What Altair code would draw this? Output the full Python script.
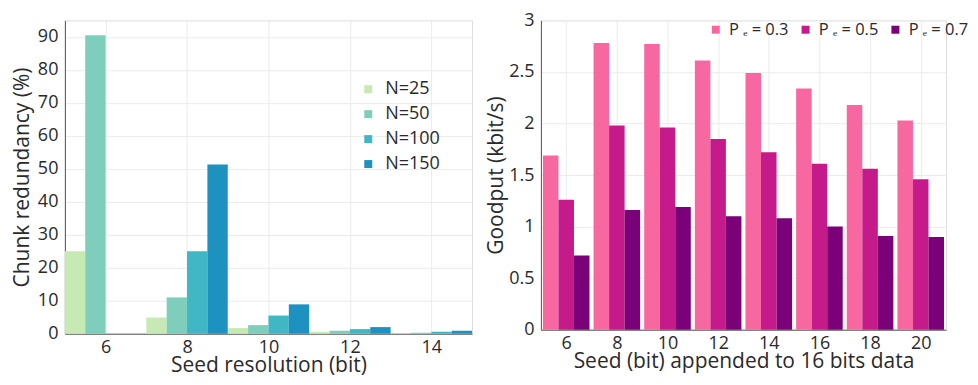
import altair as alt
import pandas as pd

# Left chart data
seed_res = [6, 8, 10, 12, 14]
n_series = ["N=25", "N=50", "N=100", "N=150"]
n25 = [25.0, 4.9, 1.7, 0.6, 0.1]
n50 = [90.5, 11.0, 2.6, 0.9, 0.3]
n100 = [0.0, 25.0, 5.5, 1.4, 0.6]
n150 = [0.0, 51.3, 8.9, 2.0, 0.9]
left_colors = ["#c7e9b4", "#7fcdbb", "#41b6c4", "#1d91c0"]

# Right chart data
seed_bits = [6, 8, 10, 12, 14, 16, 18, 20]
pe_series = ["P ₑ = 0.3", "P ₑ = 0.5", "P ₑ = 0.7"]
pe03 = [1.69, 2.78, 2.77, 2.61, 2.49, 2.34, 2.18, 2.03]
pe05 = [1.26, 1.98, 1.96, 1.85, 1.72, 1.61, 1.56, 1.46]
pe07 = [0.72, 1.16, 1.19, 1.10, 1.08, 1.00, 0.91, 0.90]
right_colors = ["#f768a1", "#c51b8a", "#7a0177"]

FONT = "Open Sans"
TXT = "#2a2a2a"

rows = []
for i, (name, vals) in enumerate(zip(n_series, [n25, n50, n100, n150])):
    for s, v in zip(seed_res, vals):
        rows.append({"seed": s, "series": name, "idx": i, "value": v})
left_df = pd.DataFrame(rows)

rows = []
for i, (name, vals) in enumerate(zip(pe_series, [pe03, pe05, pe07])):
    for s, v in zip(seed_bits, vals):
        rows.append({"seed": s, "series": name, "idx": i, "value": v})
right_df = pd.DataFrame(rows)

axis_common = dict(
    labelFont=FONT, titleFont=FONT, labelFontSize=18, titleFontSize=21,
    labelColor=TXT, titleColor=TXT, titleFontWeight="normal",
    gridColor="#ebebeb", domainColor="#555555", ticks=False,
)

left = alt.Chart(left_df).transform_calculate(
    x0="datum.seed - 1 + 0.5*datum.idx",
    x1="datum.seed - 0.5 + 0.5*datum.idx",
).mark_bar().encode(
    x=alt.X("x0:Q", scale=alt.Scale(domain=[5, 15], nice=False, zero=False),
            axis=alt.Axis(values=seed_res, title="Seed resolution (bit)",
                          labelPadding=5, titlePadding=-2, **axis_common)),
    x2="x1:Q",
    y=alt.Y("value:Q", scale=alt.Scale(domain=[0, 95], nice=False),
            axis=alt.Axis(values=list(range(0, 100, 10)), title="Chunk redundancy (%)",
                          labelPadding=7, titlePadding=5, **axis_common)),
    y2=alt.datum(0),
    color=alt.Color("series:N", sort=n_series,
                    scale=alt.Scale(domain=n_series, range=left_colors),
                    legend=alt.Legend(title=None, orient="none", legendX=295, legendY=60,
                                      symbolType="square", symbolSize=64, symbolStrokeWidth=0,
                                      labelFont=FONT, labelFontSize=18, labelColor=TXT,
                                      rowPadding=7, labelOffset=8)),
).properties(width=408, height=314)

right = alt.Chart(right_df).transform_calculate(
    x0="datum.seed - 0.92 + 0.613*datum.idx",
    x1="datum.seed - 0.92 + 0.613*(datum.idx+1)",
).mark_bar().encode(
    x=alt.X("x0:Q", scale=alt.Scale(domain=[5, 21], nice=False, zero=False),
            axis=alt.Axis(values=seed_bits, title="Seed (bit) appended to 16 bits data",
                          labelPadding=5, titlePadding=-2, **axis_common)),
    x2="x1:Q",
    y=alt.Y("value:Q", scale=alt.Scale(domain=[0, 3], nice=False),
            axis=alt.Axis(values=[0, 0.5, 1, 1.5, 2, 2.5, 3], format="~g",
                          title="Goodput (kbit/s)",
                          labelPadding=7, titlePadding=2, **axis_common)),
    y2=alt.datum(0),
    color=alt.Color("series:N", sort=pe_series,
                    scale=alt.Scale(domain=pe_series, range=right_colors),
                    legend=alt.Legend(title=None, orient="none", legendX=167, legendY=1,
                                      direction="horizontal",
                                      symbolType="square", symbolSize=64, symbolStrokeWidth=0,
                                      labelFont=FONT, labelFontSize=16.5, labelColor=TXT,
                                      columnPadding=8, labelOffset=5)),
).properties(width=406, height=310)

chart = alt.hconcat(left, right, spacing=12).resolve_scale(color="independent").configure_view(
    stroke=None
).configure(padding={"left": 2, "top": 2, "right": 0, "bottom": 0}).configure_axisY(grid=True).configure_axisX(grid=True)

chart.save("out.html", embed_options={"renderer": "svg", "actions": False})
